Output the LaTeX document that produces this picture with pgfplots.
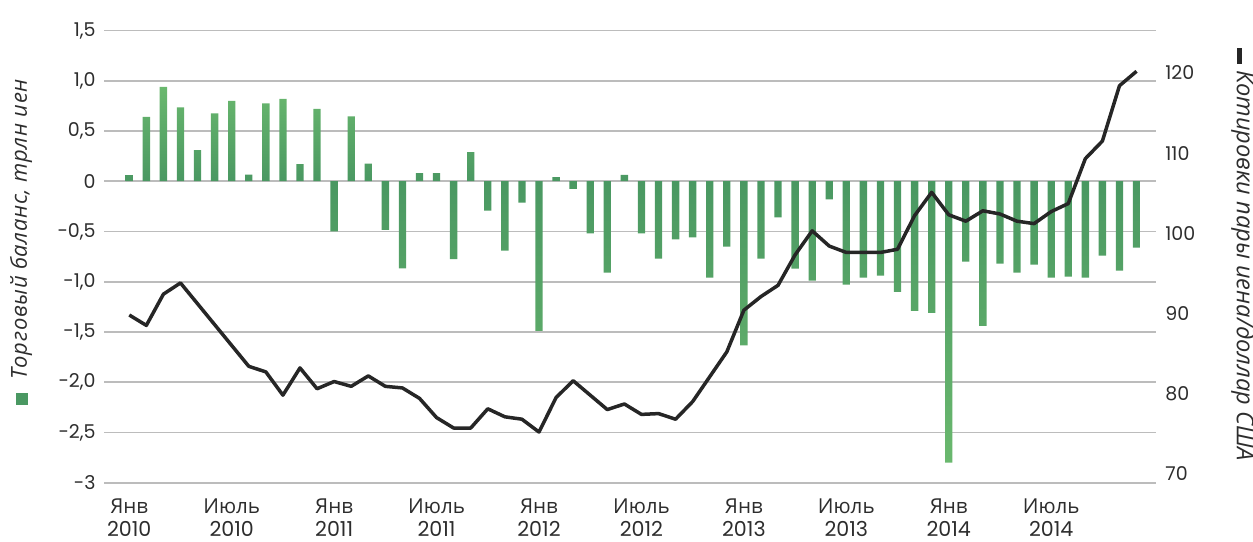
\documentclass[border=0pt]{standalone}
\usepackage{pgfplots}
\pgfplotsset{compat=1.18}
\usepackage{pgfplotstable}
\usepackage{fontspec}
\setmainfont{Open Sans}
\newfontfamily\numfont{Poppins}
\newfontfamily\labelfont[LetterSpace=3]{Open Sans}

\definecolor{bardark}{RGB}{74,152,98}
\definecolor{barlight}{RGB}{106,184,110}
\definecolor{txt}{RGB}{45,45,45}
\definecolor{gridc}{RGB}{188,188,188}
\definecolor{linec}{RGB}{38,38,38}

% monthly trade balance, trillion yen (Jan 2010 = 0 ... Dec 2014 = 59)
\pgfplotstableread{
m tb
0 0.06
1 0.64
2 0.94
3 0.735
4 0.31
5 0.675
6 0.80
7 0.066
8 0.775
9 0.82
10 0.17
11 0.72
12 -0.50
13 0.646
14 0.175
15 -0.485
16 -0.867
17 0.08
18 0.08
19 -0.774
20 0.29
21 -0.292
22 -0.69
23 -0.213
24 -1.488
25 0.04
26 -0.076
27 -0.52
28 -0.91
29 0.063
30 -0.52
31 -0.77
32 -0.578
33 -0.558
34 -0.96
35 -0.651
36 -1.634
37 -0.77
38 -0.36
39 -0.87
40 -0.99
41 -0.18
42 -1.03
43 -0.96
44 -0.94
45 -1.10
46 -1.29
47 -1.31
48 -2.80
49 -0.80
50 -1.44
51 -0.82
52 -0.91
53 -0.83
54 -0.96
55 -0.95
56 -0.96
57 -0.74
58 -0.89
59 -0.66
}\balance

% USD/JPY exchange rate
\pgfplotstableread{
m fx
0 89.8
1 88.5
2 92.4
3 93.8
4 91.2
5 88.6
6 86.0
7 83.4
8 82.7
9 79.8
10 83.2
11 80.6
12 81.5
13 80.9
14 82.2
15 80.9
16 80.7
17 79.4
18 77.0
19 75.7
20 75.7
21 78.1
22 77.1
23 76.8
24 75.2
25 79.5
26 81.6
27 79.8
28 78.0
29 78.7
30 77.4
31 77.5
32 76.8
33 79.0
34 82.1
35 85.2
36 90.4
37 92.1
38 93.5
39 97.3
40 100.3
41 98.4
42 97.6
43 97.6
44 97.6
45 98.0
46 102.2
47 105.1
48 102.3
49 101.5
50 102.8
51 102.4
52 101.5
53 101.2
54 102.7
55 103.7
56 109.3
57 111.5
58 118.4
59 120.2
}\usdjpy

\pgfplotsset{
  base/.style={
    scale only axis, width=526pt, height=226.1pt,
    xmin=-1.48, xmax=60.14,
    axis line style={draw=none},
    major tick length=0pt, tick style={draw=none},
    clip mode=individual,
  },
}

\begin{document}
\begin{tikzpicture}
\path[use as bounding box] (-52pt,-29.15pt) rectangle (574.5pt,241.35pt);

\begin{axis}[base,
  ymin=-3, ymax=1.5,
  ymajorgrids, grid style={gridc, line width=0.8pt},
  ytick={-3,-2.5,...,1.5},
  yticklabels={{-3},{-2,5},{-2,0},{-1,5},{-1,0},{-0,5},{0},{0,5},{1,0},{1,5}},
  yticklabel style={font=\numfont\fontsize{9.5}{11}\selectfont, text=txt, inner sep=0pt, xshift=-4pt},
  xtick={0,6,...,54},
  xticklabels={{Янв\\{\numfont 2010}},{Июль\\{\numfont 2010}},{Янв\\{\numfont 2011}},{Июль\\{\numfont 2011}},{Янв\\{\numfont 2012}},{Июль\\{\numfont 2012}},{Янв\\{\numfont 2013}},{Июль\\{\numfont 2013}},{Янв\\{\numfont 2014}},{Июль\\{\numfont 2014}}},
  xticklabel style={align=center, font=\fontsize{10.3}{11.4}\selectfont, text=txt, anchor=north, inner sep=0pt, yshift=-8pt},
]
  \addplot[ybar, bar width=0.43, draw=none, top color=barlight, bottom color=bardark,
    y filter/.expression={y>=0 ? y : nan}] table[x=m, y=tb] {\balance};
  \addplot[ybar, bar width=0.43, draw=none, top color=bardark, bottom color=barlight,
    y filter/.expression={y<0 ? y : nan}] table[x=m, y=tb] {\balance};
  % legend key and title of the left scale
  \node[fill=bardark, inner sep=0pt, minimum size=6pt]
    at ([xshift=-41pt, yshift=41.8pt]rel axis cs:0,0) {};
  \node[rotate=90, anchor=west, inner sep=0pt, text=txt, font=\labelfont\fontsize{11}{13}\selectfont]
    at ([xshift=-41.5pt, yshift=51.3pt]rel axis cs:0,0)
    {\textit{Торговый баланс, трлн иен}};
\end{axis}

\begin{axis}[base,
  ymin=68.88, ymax=125.29,
  hide x axis,
  axis y line*=right,
  ytick={70,80,...,120},
  yticklabels={70,80,90,100,110,120},
  yticklabel style={font=\numfont\fontsize{9.5}{11}\selectfont, text=txt, inner sep=0pt, xshift=4.5pt},
]
  \addplot[linec, line width=1.75pt, line join=round, no marks] table[x=m, y=fx] {\usdjpy};
  % legend key and title of the right scale
  \node[fill=linec, inner sep=0pt, minimum width=2.6pt, minimum height=8pt]
    at ([xshift=41.8pt, yshift=-12.8pt]rel axis cs:1,1) {};
  \node[rotate=-90, anchor=west, inner sep=0pt, text=txt, font=\fontsize{11.8}{13}\selectfont]
    at ([xshift=43.5pt, yshift=-19.7pt]rel axis cs:1,1)
    {\textit{Котировки пары иена/доллар США}};
\end{axis}
\end{tikzpicture}
\end{document}
